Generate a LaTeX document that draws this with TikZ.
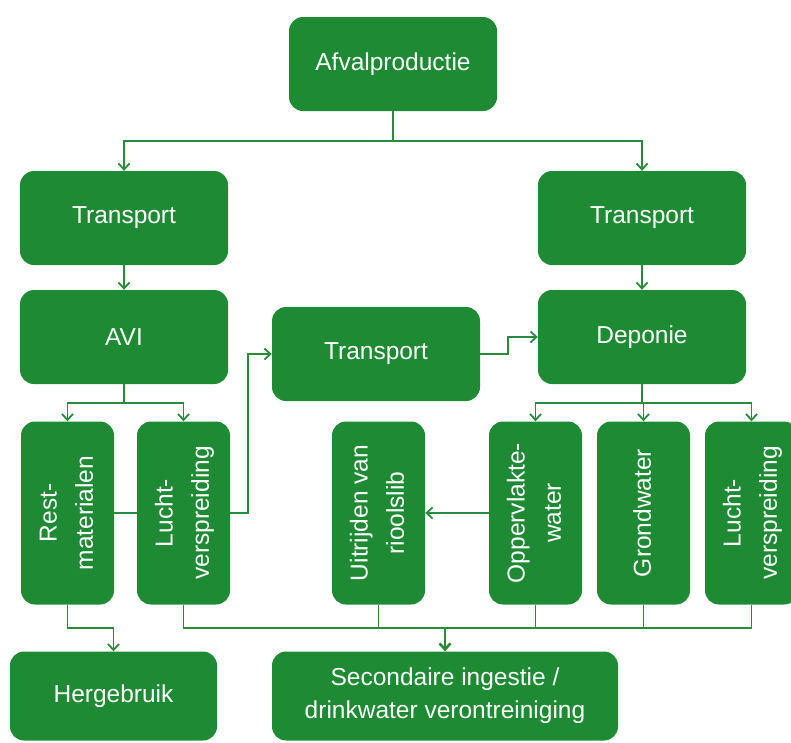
\documentclass[tikz,border=0pt]{standalone}
\usepackage{fontspec}
\setmainfont{Liberation Sans}
\usepackage{graphicx}
\usetikzlibrary{arrows.meta}
\definecolor{wastegreen}{RGB}{30,139,52}
\definecolor{linegreen}{RGB}{40,140,60}
\newcommand{\vlabel}[1]{\rotatebox{90}{\renewcommand{\arraystretch}{1.1}\begin{tabular}{@{}c@{}}#1\end{tabular}}}
\begin{document}
\begin{tikzpicture}[x=1pt,y=-1pt,
    >={Straight Barb[length=6pt,width=11pt]},
    box/.style={fill=wastegreen,rounded corners=14pt,text=white,align=center,
      font=\fontsize{24.5}{33}\selectfont,inner sep=2pt},
    hbox/.style={box,minimum width=208pt,minimum height=94pt},
    vbox/.style={box,minimum width=93pt,minimum height=183pt},
    link/.style={draw=linegreen,line width=1.8pt}]
  \useasboundingbox (0,0) rectangle (791,742);

  % top
  \node[hbox] (afval) at (393,64) {Afvalproductie};
  \node[hbox] (trl) at (124,218) {Transport};
  \node[hbox] (trr) at (642,218) {Transport};
  \node[hbox] (avi) at (124,337) {AVI};
  \node[hbox] (dep) at (642,337) {Deponie};
  \node[hbox] (trm) at (376,354) {Transport};

  % vertical boxes
  \node[vbox] (rest) at (67.5,513) {\vlabel{Rest-\\materialen}};
  \node[vbox] (luchtl) at (183.5,513) {\vlabel{Lucht-\\verspreiding}};
  \node[vbox] (uit) at (378.5,513) {\vlabel{Uitrijden van\\rioolslib}};
  \node[vbox] (opw) at (535.5,513) {\vlabel{Oppervlakte-\\water}};
  \node[vbox] (grw) at (643.5,513) {\vlabel{Grondwater}};
  \node[vbox] (luchtr) at (751.5,513) {\vlabel{Lucht-\\verspreiding}};

  % bottom
  \node[box,minimum width=207pt,minimum height=89pt] (herg) at (113.5,696) {Hergebruik};
  \node[box,minimum width=346pt,minimum height=89pt] (sec) at (445,696)
      {Secondaire ingestie /\\drinkwater verontreiniging};

  \coordinate (bus) at (0,628);

  \draw[link,->] (afval.south) -- ++(0,30) -| (trl.north);
  \draw[link,->] (afval.south) -- ++(0,30) -| (trr.north);
  \draw[link,->] (trl.south) -- (avi.north);
  \draw[link,->] (trr.south) -- (dep.north);

  \draw[link,->] (avi.south) -- ++(0,19) -| (rest.north);
  \draw[link,->] (avi.south) -- ++(0,19) -| (luchtl.north);
  \draw[link] (rest.east) -- (luchtl.west);
  \draw[link,->] (luchtl.east) -- ++(18,0) |- (trm.west);
  \draw[link,->] (trm.east) -- ++(28,0) |- (dep.west);

  \draw[link,->] (dep.south) -- ++(0,19) -| (opw.north);
  \draw[link,->] (dep.south) -- ++(0,19) -| (grw.north);
  \draw[link,->] (dep.south) -- ++(0,19) -| (luchtr.north);
  \draw[link,->] (opw.west) -- (uit.east);

  \draw[link,->] (rest.south) -- ++(0,23) -| (herg.north);
  \draw[link] (luchtl.south) |- (bus -| luchtr.south) -- (luchtr.south);
  \draw[link] (uit.south) -- (uit.south |- bus);
  \draw[link] (opw.south) -- (opw.south |- bus);
  \draw[link] (grw.south) -- (grw.south |- bus);
  \draw[link,line width=2.6pt,->] (sec.north |- bus) -- (sec.north);
\end{tikzpicture}
\end{document}
